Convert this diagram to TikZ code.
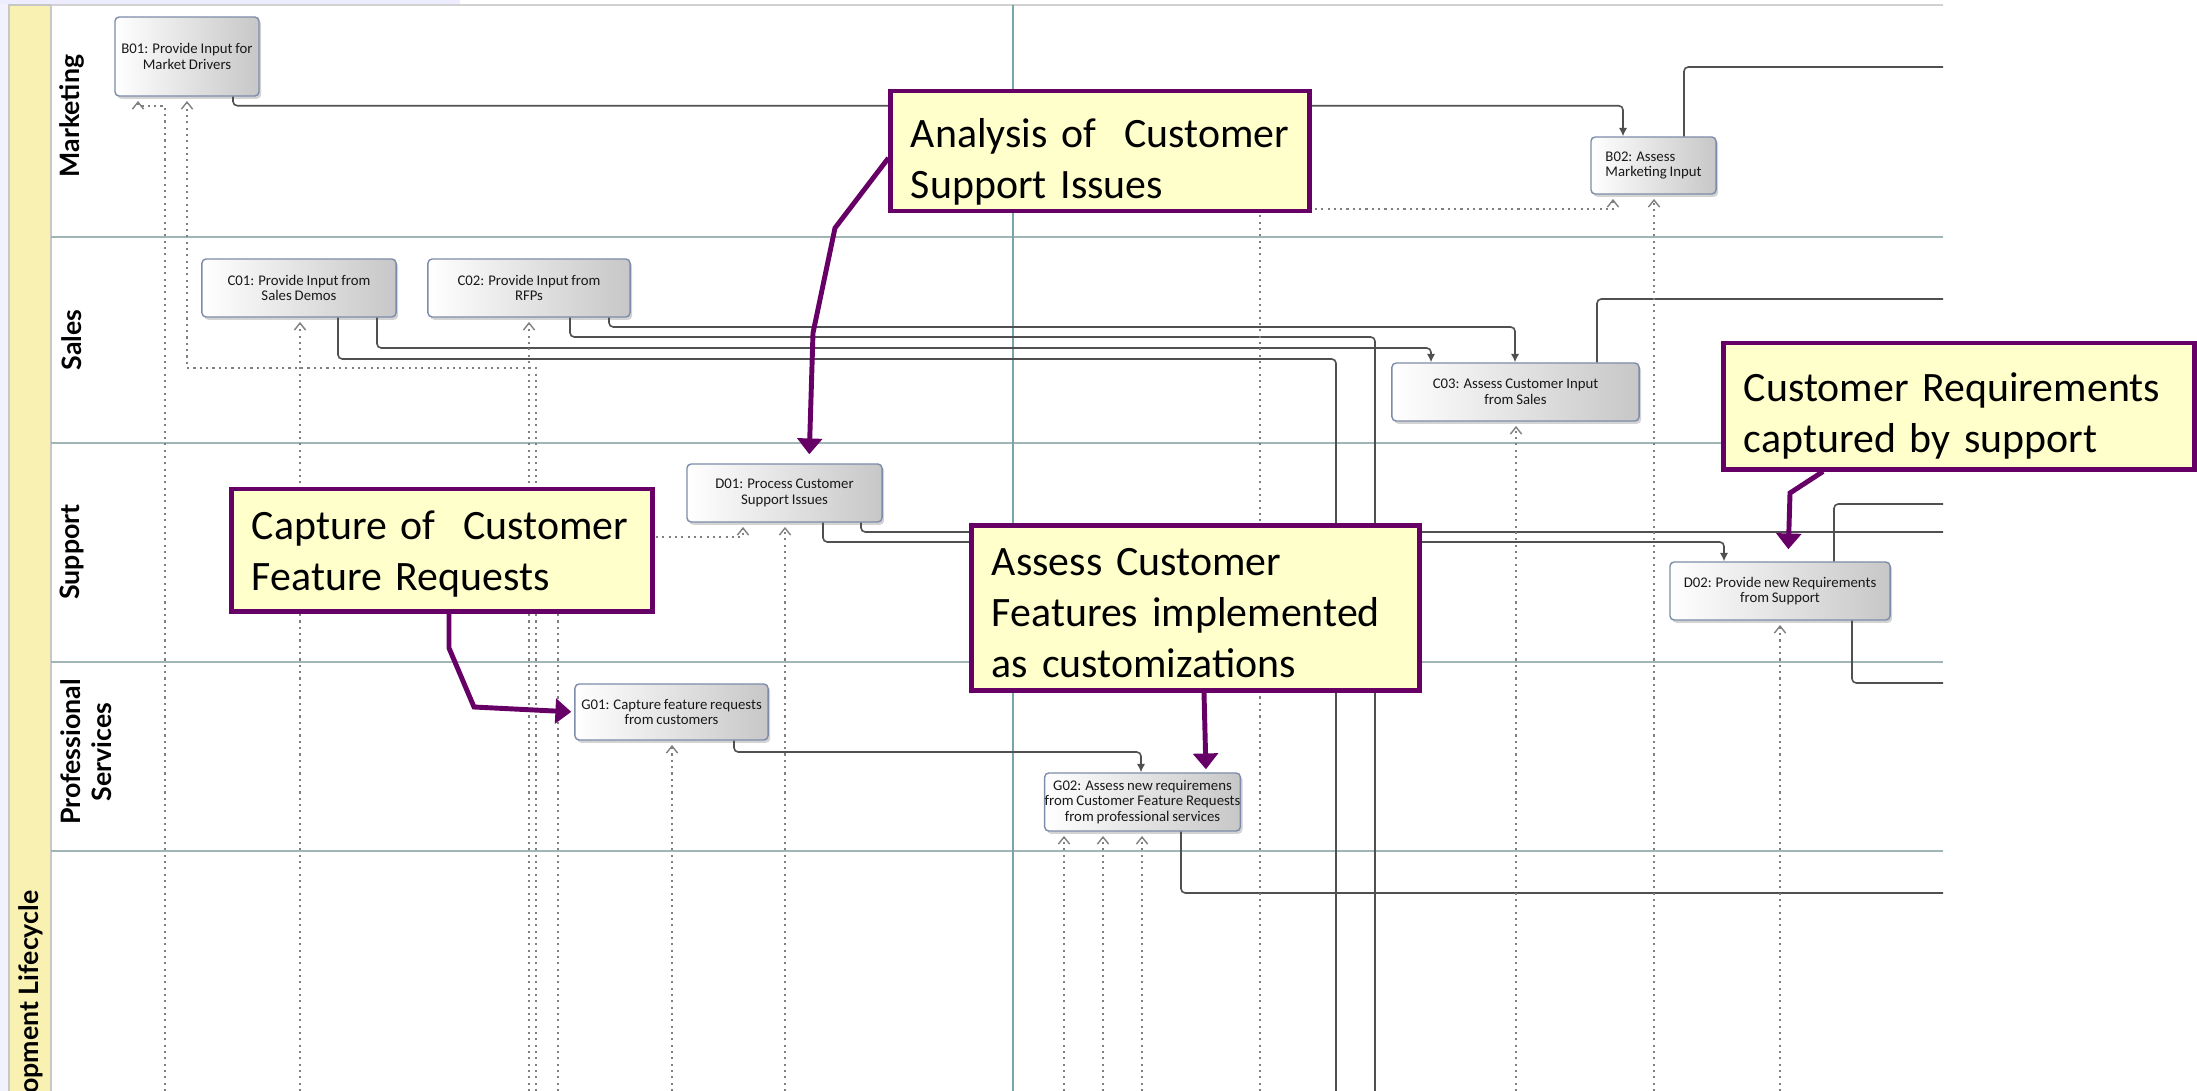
\documentclass[tikz,border=0pt]{standalone}
\usepackage{fontspec}
\setmainfont{Carlito}[WordSpace=0.85]
\newfontfamily\lanefont{Lato}
\usetikzlibrary{arrows.meta,shadows}
\definecolor{notefill}{RGB}{255,255,204}
\definecolor{noteline}{RGB}{102,0,102}
\definecolor{poolfill}{RGB}{249,241,178}
\definecolor{laneline}{RGB}{160,182,182}
\definecolor{phaseline}{RGB}{120,165,165}
\definecolor{taskline}{RGB}{125,140,170}
\definecolor{flowline}{RGB}{80,80,80}

\begin{document}
\begin{tikzpicture}[x=0.01cm, y=-0.01cm,
    task/.style = {draw=taskline, line width=0.4pt, rounded corners=1.2pt, left color=white, right color=black!22,
      drop shadow={shadow xshift=0.6pt, shadow yshift=-0.8pt, opacity=0.35},
      font=\fontsize{4.2}{4.5}\selectfont, text=black!90, align=center, inner sep=0pt},
    note/.style = {draw=noteline, line width=1.4pt, fill=notefill, font=\fontsize{11.9}{14.5}\selectfont,
      align=left, inner xsep=0.2cm, inner ysep=0pt},
    lane/.style = {rotate=90, font=\lanefont\bfseries\fontsize{7.6}{9}\selectfont, align=center},
    flow/.style = {draw=flowline, line width=0.45pt, rounded corners=1.2pt},
    flowin/.style = {flow, -{Latex[length=2.4pt,width=2.4pt]}},
    info/.style = {draw=black!50, line width=0.4pt, dash pattern=on 0.6pt off 1.2pt,
      -{Straight Barb[length=2pt,width=3.2pt]}, shorten >=1.2pt},
    pointer/.style = {draw=noteline, line width=1.4pt, -{Triangle[length=4.5pt,width=7pt]}}]

    \useasboundingbox (0,0) rectangle (2197,1091);
    \fill[blue!5] (0,0) rectangle (8,1091);
    \fill[blue!7] (0,0) rectangle (460,4);
    \fill[poolfill] (9,5) rectangle (51,1091);
    \draw[black!22, line width=0.3pt] (9,1091) -- (9,5) -- (51,5) -- (51,1091);
    \draw[black!18, line width=0.6pt] (51,5) -- (1943,5);
    \foreach \y in {237,443,662,851}
      \draw[laneline, line width=0.8pt] (51,\y) -- (1943,\y);
    \draw[phaseline, line width=0.4pt] (1013,5) -- (1013,1091);

    \node[lane] (mkt) at (72,116) {Marketing};
    \node[lane] (sales) at (72,340) {Sales};
    \node[lane] (supp) at (72,552) {Support};
    \node[lane] (prof) at (86,752) {Professional\\Services};
    \node[lane, anchor=east, inner sep=0pt] (pool) at (31,890) {opment Lifecycle};

    \node[task, minimum width=1.44cm, minimum height=0.79cm] (b01) at (187,56.5) {B01: Provide Input for\\Market Drivers};
    \node[task, minimum width=1.25cm, minimum height=0.57cm, align=left] (b02) at (1653.5,165.5) {B02: Assess\\Marketing Input};
    \node[task, minimum width=1.94cm, minimum height=0.58cm] (c01) at (299,288) {C01: Provide Input from\\Sales Demos};
    \node[task, minimum width=2.02cm, minimum height=0.58cm] (c02) at (529,288) {C02: Provide Input from\\RFPs};
    \node[task, minimum width=2.47cm, minimum height=0.58cm] (c03) at (1515.5,392) {C03: Assess Customer Input\\from Sales};
    \node[task, minimum width=1.95cm, minimum height=0.58cm] (d01) at (784.5,493) {D01: Process Customer\\Support Issues};
    \node[task, minimum width=2.20cm, minimum height=0.58cm] (d02) at (1780,591) {D02: Provide new Requirements\\from Support};
    \node[task, minimum width=1.93cm, minimum height=0.56cm] (g01) at (671.5,712) {G01: Capture feature requests\\from customers};
    \node[task, minimum width=1.95cm, minimum height=0.58cm] (g02) at (1142.5,802) {G02: Assess new requiremens\\from Customer Feature Requests\\from professional services};

    \draw[flowin] (b01.south -| 233,0) -- ++(0,9) -| (b02.north -| 1623,0);
    \draw[flow] (b02.north -| 1684,0) |- (1943,67);
    \draw[flowin] (c01.south -| 377,0) |- (1431,348) -- (c03.north -| 1431,0);
    \draw[flow] (c01.south -| 338,0) |- (1336,359) -- (1336,1091);
    \draw[flowin] (c02.south -| 609,0) |- (1515,327) -- (c03.north -| 1515,0);
    \draw[flow] (c02.south -| 570,0) |- (1375,337) -- (1375,1091);
    \draw[flow] (c03.north -| 1597,0) |- (1943,299);
    \draw[flow] (d01.south -| 861,0) |- (1943,532);
    \draw[flowin] (d01.south -| 823,0) |- (1724,542) -- (d02.north -| 1724,0);
    \draw[flow] (d02.north -| 1834,0) |- (1943,504);
    \draw[flow] (d02.south -| 1852,0) |- (1943,683);
    \draw[flowin] (g01.south -| 734,0) |- (1141,752) -- (g02.north -| 1141,0);
    \draw[flow] (g02.south -| 1181,0) |- (1943,893);

    \draw[info] (165,1091) |- (138,106) -- (b01.south -| 138,0);
    \draw[info] (536,1091) |- (187,368) -- (b01.south -| 187,0);
    \draw[info] (300,1091) -- (c01.south -| 300,0);
    \draw[info] (529,1091) -- (c02.south -| 529,0);
    \draw[info] (558,1091) |- (743,537) -- (d01.south -| 743,0);
    \draw[info] (785,1091) -- (d01.south -| 785,0);
    \draw[info] (672,1091) -- (g01.south -| 672,0);
    \foreach \x in {1064,1103,1142}
      \draw[info] (\x,1091) -- (g02.south -| \x,0);
    \draw[info] (1260,1091) |- (1613,209) -- (b02.south -| 1613,0);
    \draw[info] (1516,1091) -- (c03.south -| 1516,0);
    \draw[info] (1654,1091) -- (b02.south -| 1654,0);
    \draw[info] (1780,1091) -- (d02.south -| 1780,0);

    \node[note, text width=3.78cm, minimum height=1.2cm] (analysis) at (1100,151) {\rule{0pt}{14.5pt}Analysis of\ \ Customer\\Support Issues};
    \node[note, text width=3.80cm, minimum height=1.22cm] (capture) at (442,550) {\rule{0pt}{10.5pt}Capture of\ \ Customer\\Feature Requests};
    \node[note, text width=4.07cm, minimum height=1.64cm] (assess) at (1195.5,608) {\rule{0pt}{10.5pt}Assess Customer\\Features implemented\\as customizations};
    \node[note, text width=4.30cm, minimum height=1.26cm] (reqs) at (1959,406) {\rule{0pt}{14pt}Customer Requirements\\captured by support};

    \draw[pointer] ([yshift=-0.07cm]analysis.west) -- (835,228) -- (813,333) -- (d01.north -| 809,0) [shorten >=0.09cm];
    \draw[pointer] (capture.south -| 449,0) -- (449,648) -- (474,707) -- (g01.west) [shorten >=0.03cm];
    \draw[pointer] (assess.south -| 1204,0) -- (g02.north -| 1206,0) [shorten >=0.03cm];
    \draw[pointer] (reqs.south -| 1823,0) -- (1790,493) -- (d02.north -| 1788,0) [shorten >=0.12cm];
  \end{tikzpicture}
\end{document}
